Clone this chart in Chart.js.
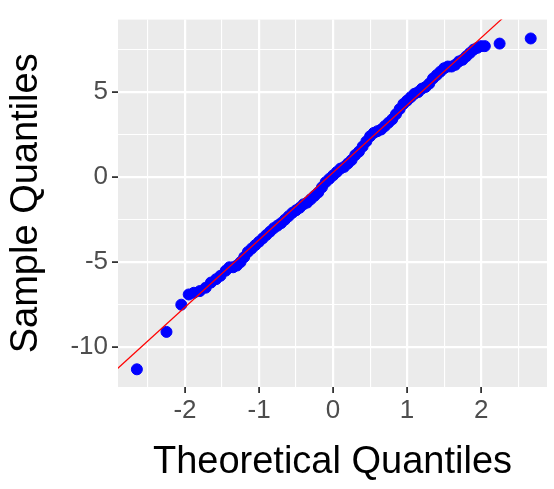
<!DOCTYPE html>
<html>
<head>
<meta charset="utf-8">
<script src="https://cdn.jsdelivr.net/npm/chart.js@4"></script>
<style>
html,body{margin:0;padding:0;background:#fff;}
#wrap{width:554px;height:489px;}
</style>
</head>
<body>
<div id="wrap"><canvas id="qqChart" width="554" height="489"></canvas></div>
<script>
const theoretical = [-2.65,-2.25,-2.05,-1.95,-1.88,-1.80,-1.72,-1.65,-1.58,-1.52,-1.45,-1.40,-1.35,-1.30,-1.25,-1.20,-1.15,-1.10,-1.05,-1.00,
-0.95,-0.90,-0.85,-0.80,-0.75,-0.70,-0.65,-0.60,-0.55,-0.50,-0.45,-0.40,-0.35,-0.30,-0.25,-0.20,-0.15,-0.10,-0.05,0.00,
0.05,0.10,0.15,0.20,0.25,0.30,0.35,0.40,0.45,0.50,0.55,0.60,0.65,0.70,0.75,0.80,0.85,0.90,0.95,1.00,
1.05,1.10,1.15,1.20,1.25,1.30,1.35,1.40,1.45,1.50,1.55,1.60,1.65,1.70,1.75,1.80,1.85,1.90,1.95,2.00,2.05,2.25,2.67];
const sample = [-11.3,-9.1,-7.5,-6.9,-6.8,-6.7,-6.5,-6.2,-6.0,-5.8,-5.5,-5.3,-5.3,-5.2,-5.0,-4.7,-4.4,-4.2,-4.0,-3.8,
-3.6,-3.4,-3.2,-3.0,-2.85,-2.7,-2.5,-2.3,-2.1,-1.95,-1.8,-1.6,-1.5,-1.3,-1.1,-0.9,-0.6,-0.3,-0.1,0.1,
0.3,0.5,0.6,0.8,1.0,1.3,1.5,1.8,2.1,2.4,2.6,2.7,2.8,3.0,3.2,3.4,3.7,4.0,4.3,4.5,
4.7,4.9,5.0,5.2,5.3,5.5,5.8,6.0,6.2,6.4,6.5,6.5,6.6,6.8,6.9,7.1,7.3,7.5,7.6,7.7,7.7,7.85,8.15];
const refLineX = [-3, 3];
const refLineY = [-11.61, 12.15];
const xTicks = [-2.5,-2,-1.5,-1,-0.5,0,0.5,1,1.5,2,2.5];
const yTicks = [-10,-7.5,-5,-2.5,0,2.5,5,7.5];

const panelBg = {
  id:'panelBg',
  beforeDraw(chart){
    const a = chart.chartArea, c = chart.ctx;
    c.save(); c.fillStyle = '#ebebeb';
    c.fillRect(a.left, a.top, a.right - a.left, a.bottom - a.top);
    c.restore();
  }
};

function gridOpts(majorTest){
  return {
    color: '#ffffff',
    lineWidth: ctx => majorTest(ctx.tick.value) ? 2.2 : 1.1,
    tickColor: ctx => majorTest(ctx.tick.value) ? '#333333' : 'rgba(0,0,0,0)',
    tickLength: 6,
    tickWidth: 1.8,
    drawOnChartArea: true
  };
}

new Chart(document.getElementById('qqChart'), {
  data:{
    datasets:[
      {type:'line', data: refLineX.map((x,i)=>({x:x, y:refLineY[i]})), borderColor:'#ff0000', borderWidth:1.2,
       pointRadius:0, fill:false, order:0},
      {type:'scatter', data: theoretical.map((x,i)=>({x:x, y:sample[i]})), backgroundColor:'#0000ff',
       borderColor:'#0000ff', pointRadius:5.5, pointHoverRadius:5.5, order:1}
    ]
  },
  options:{
    responsive:false, animation:false, events:[],
    layout:{padding:{top:0, right:7, left:0, bottom:0}},
    plugins:{legend:{display:false}, tooltip:{enabled:false}},
    scales:{
      x:{type:'linear', min:-2.905, max:2.89, border:{display:false},
        afterBuildTicks: s => { s.ticks = xTicks.map(v=>({value:v})); },
        afterFit: s => { s.height = 102; },
        grid: gridOpts(v => Number.isInteger(v)),
        ticks:{color:'#4d4d4d', padding:2, font:{family:'Liberation Sans', size:26},
          callback: v => Number.isInteger(v) ? String(v) : ''},
        title:{display:true, text:'Theoretical Quantiles', color:'#000', padding:{top:0, bottom:4},
          font:{family:'Liberation Sans', size:38}}
      },
      y:{type:'linear', min:-12.34, max:9.26, border:{display:false},
        afterBuildTicks: s => { s.ticks = yTicks.map(v=>({value:v})); },
        afterFit: s => { s.width = 118; },
        grid: gridOpts(v => v % 5 === 0),
        ticks:{color:'#4d4d4d', padding:4, font:{family:'Liberation Sans', size:26},
          callback: v => v % 5 === 0 ? String(v) : ''},
        title:{display:true, text:'Sample Quantiles', color:'#000', padding:{top:4, bottom:0},
          font:{family:'Liberation Sans', size:38}}
      }
    }
  },
  plugins:[panelBg]
});
</script>
</body>
</html>
